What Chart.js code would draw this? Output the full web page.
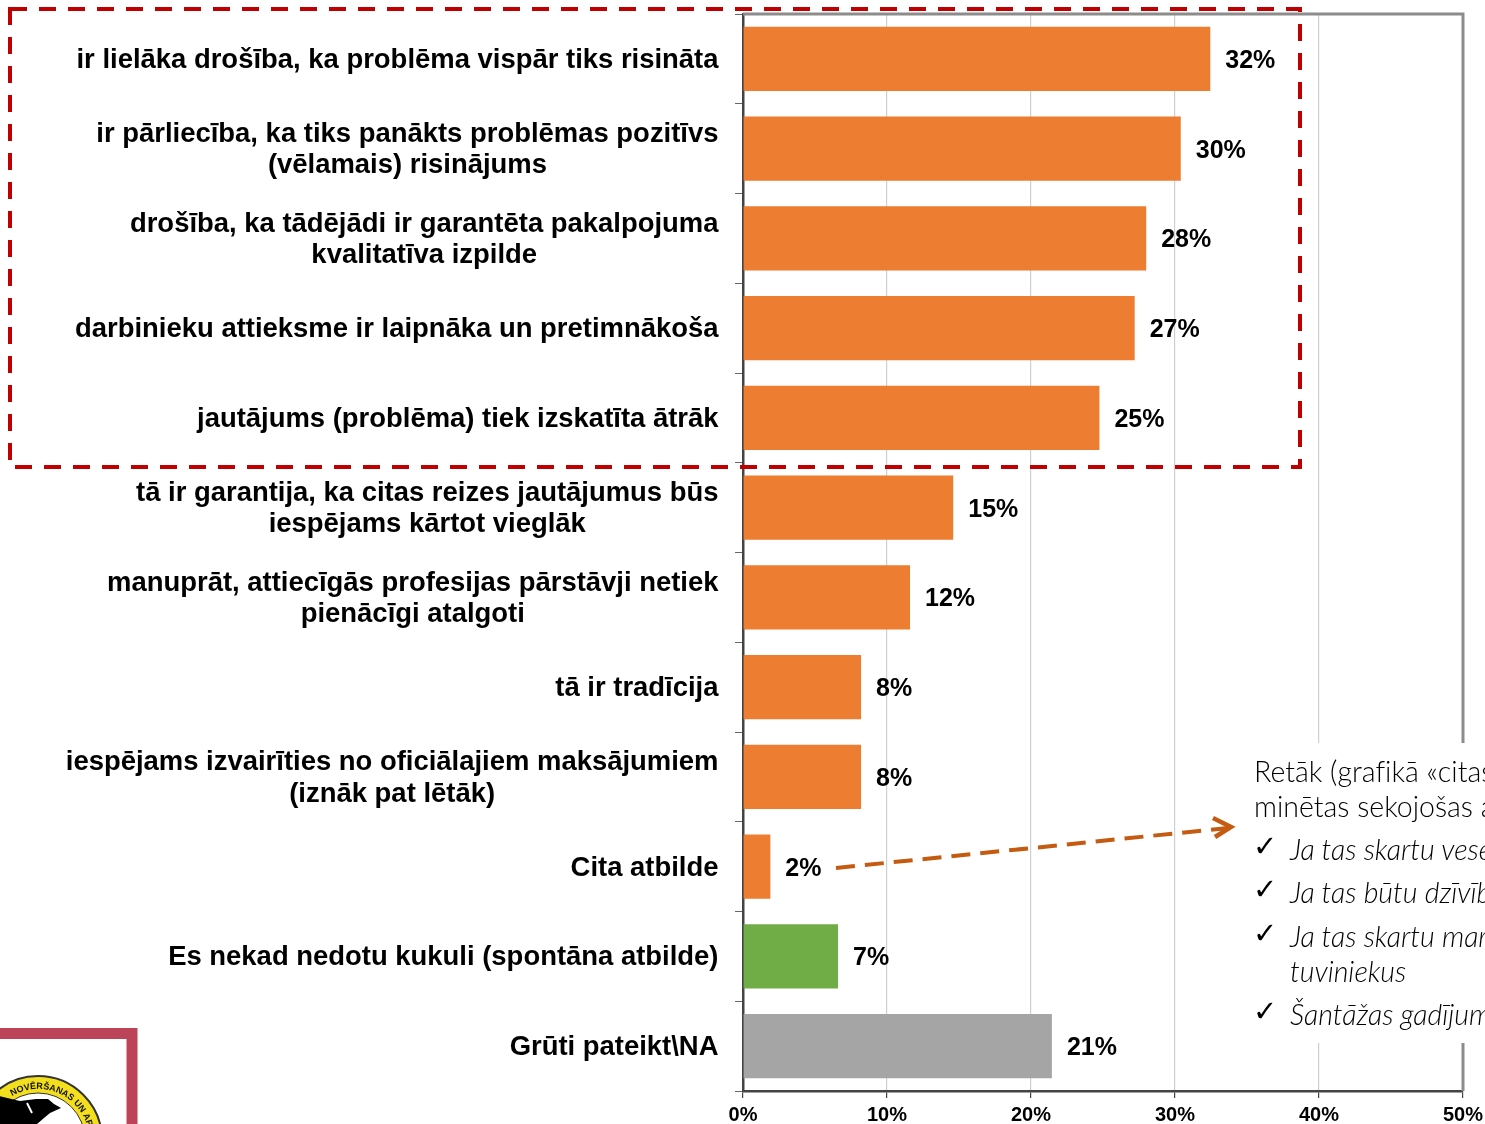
<!DOCTYPE html>
<html lang="lv">
<head>
<meta charset="utf-8">
<title>Grafiks</title>
<script src="https://cdn.jsdelivr.net/npm/chart.js@4"></script>
<style>
    html, body { margin: 0; padding: 0; background: #fff; overflow: hidden; }
    #wrap { position: relative; width: 1485px; height: 1124px; overflow: hidden; }
    #chart { position: absolute; left: 0; top: 0; }
    #overlay { position: absolute; left: 0; top: 0; }
    #note { position: absolute; left: 1240px; top: 743px; width: 245px; height: 300px; background: #fff; overflow: hidden;
        font-family: Lato, "Open Sans", sans-serif; font-weight: 300; font-size: 28.5px; color: #000;
        font-variant-ligatures: none; }
    #note div { position: absolute; white-space: nowrap; line-height: 32px; }
    #note .it { left: 50px; font-style: italic; }
    #note .ck { left: 13px; font-family: "DejaVu Sans", sans-serif; font-weight: 400; font-size: 29px; }
</style>
</head>
<body>
<div id="wrap">
    <canvas id="chart" width="1485" height="1124"></canvas>
    <svg id="overlay" width="1485" height="1124" viewBox="0 0 1485 1124">
        <!-- sarkanais izcēluma rāmis -->
        <rect x="10" y="9" width="1290" height="458" fill="none" stroke="#c00000" stroke-width="4" stroke-dasharray="17 12"/>
        <!-- bulta uz piezīmi -->
        <line x1="836" y1="868" x2="1228" y2="828" stroke="#c55a11" stroke-width="4" stroke-dasharray="19 10"/>
        <polyline points="1213,818 1231,827 1215,837" fill="none" stroke="#c55a11" stroke-width="4.5"/>
        <!-- logo -->
        <rect x="-40" y="1033.5" width="172" height="140" fill="none" stroke="#bc4459" stroke-width="11"/>
        <circle cx="38" cy="1140" r="64" fill="#f3df1e" stroke="#333" stroke-width="2"/>
        <circle cx="38" cy="1140" r="47" fill="#fff" stroke="#333" stroke-width="1"/>
        <path d="M-5,1095 L20,1101 L36,1099 L48,1099 L54,1104 L61,1108 L50,1113 L44,1118 L37,1124 L0,1124 Z" fill="#000"/>
        <line x1="27" y1="1103" x2="32" y2="1113" stroke="#fff" stroke-width="2"/>
        <path id="arc" d="M12,1096 A51 51 0 0 1 89,1140" fill="none"/>
        <text font-family="Liberation Sans" font-weight="700" font-size="9" fill="#111">
            <textPath href="#arc">NOVĒRŠANAS UN APKAR</textPath>
        </text>
    </svg>
    <div id="note">
        <div style="left:14px;top:12px">Retāk (grafikā «citas</div>
        <div style="left:14px;top:47px">minētas sekojošas a</div>
        <div class="ck" style="top:87px">✓</div>
        <div class="it" style="top:90px">Ja tas skartu vese</div>
        <div class="ck" style="top:130px">✓</div>
        <div class="it" style="top:133px">Ja tas būtu dzīvīb</div>
        <div class="ck" style="top:174px">✓</div>
        <div class="it" style="top:177px">Ja tas skartu mar</div>
        <div class="it" style="top:212px">tuviniekus</div>
        <div class="ck" style="top:252px">✓</div>
        <div class="it" style="top:255px">Šantāžas gadījum</div>
    </div>
</div>

<script>
// Dati
const categories = [
    ['ir lielāka drošība, ka problēma vispār tiks risināta'],
    ['ir pārliecība, ka tiks panākts problēmas pozitīvs', '(vēlamais) risinājums'],
    ['drošība, ka tādējādi ir garantēta pakalpojuma', 'kvalitatīva izpilde'],
    ['darbinieku attieksme ir laipnāka un pretimnākoša'],
    ['jautājums (problēma) tiek izskatīta ātrāk'],
    ['tā ir garantija, ka citas reizes jautājumus būs', 'iespējams kārtot vieglāk'],
    ['manuprāt, attiecīgās profesijas pārstāvji netiek', 'pienācīgi atalgoti'],
    ['tā ir tradīcija'],
    ['iespējams izvairīties no oficiālajiem maksājumiem', '(iznāk pat lētāk)'],
    ['Cita atbilde'],
    ['Es nekad nedotu kukuli (spontāna atbilde)'],
    ['Grūti pateikt\\NA']
];
const values = [32.45, 30.4, 28.0, 27.2, 24.75, 14.6, 11.6, 8.2, 8.2, 1.9, 6.6, 21.45];
const valueLabels = ['32%', '30%', '28%', '27%', '25%', '15%', '12%', '8%', '8%', '2%', '7%', '21%'];
const xTicks = [0, 10, 20, 30, 40, 50];

const ORANGE = '#ED7D31', GREEN = '#70AD47', GREY = '#A5A5A5';
const FRAME = '#8c8c8c';

// Kategoriju nosaukumi: bloks pie labās malas, rindas centrētas blokā
const categoryLabels = {
    id: 'categoryLabels',
    afterDraw(chart) {
        const ctx = chart.ctx, yScale = chart.scales.y;
        const right = yScale.right - 24.5, lineH = 31.5;
        ctx.save();
        ctx.font = 'bold 27.45px "Liberation Sans"';
        ctx.fillStyle = '#000';
        ctx.textAlign = 'center';
        ctx.textBaseline = 'middle';
        categories.forEach((lines, i) => {
            const widest = Math.max(...lines.map(l => ctx.measureText(l).width));
            const y0 = yScale.getPixelForValue(i) + 1.5 - (lines.length - 1) * lineH / 2;
            lines.forEach((l, k) => ctx.fillText(l, right - widest / 2, y0 + k * lineH));
        });
        ctx.restore();
    }
};

// Vērtību etiķetes aiz stabiņiem
const barLabels = {
    id: 'barLabels',
    afterDatasetsDraw(chart) {
        const ctx = chart.ctx;
        ctx.save();
        ctx.font = 'bold 25px "Liberation Sans"';
        ctx.fillStyle = '#000';
        ctx.textAlign = 'left';
        ctx.textBaseline = 'middle';
        chart.getDatasetMeta(0).data.forEach((bar, i) => {
            ctx.fillText(valueLabels[i], bar.x + 15, bar.y + 2);
        });
        ctx.restore();
    }
};

// Augšējā un labā rāmja līnija
const plotFrame = {
    id: 'plotFrame',
    beforeDatasetsDraw(chart) {
        const { ctx, chartArea: a } = chart;
        ctx.save();
        ctx.strokeStyle = FRAME;
        ctx.lineWidth = 3;
        ctx.beginPath();
        ctx.moveTo(a.left, a.top);
        ctx.lineTo(a.right, a.top);
        ctx.lineTo(a.right, a.bottom);
        ctx.stroke();
        ctx.restore();
    }
};

new Chart(document.getElementById('chart').getContext('2d'), {
    type: 'bar',
    data: {
        labels: categories.map(c => c.join(' ')),
        datasets: [{
            data: values,
            backgroundColor: c => c.dataIndex === 10 ? GREEN : c.dataIndex === 11 ? GREY : ORANGE,
            barPercentage: 0.714,
            categoryPercentage: 1
        }]
    },
    options: {
        indexAxis: 'y',
        responsive: false,
        animation: false,
        layout: { padding: { top: 14, right: 22, left: 0, bottom: 0 } },
        plugins: { legend: { display: false }, tooltip: { enabled: false } },
        scales: {
            x: {
                min: 0,
                max: 50,
                afterBuildTicks: s => { s.ticks = xTicks.map(v => ({ value: v })); },
                afterFit: s => { s.height = 33; s.paddingLeft = 0; s.paddingRight = 0; },
                grid: { color: '#cfcfcf', lineWidth: 1.2, tickColor: '#444', tickLength: 7 },
                border: { color: '#444', width: 2.5 },
                ticks: {
                    callback: v => v + '%',
                    color: '#000',
                    maxRotation: 0,
                    padding: 5,
                    font: { family: '"Liberation Sans"', weight: 'bold', size: 20 }
                }
            },
            y: {
                afterFit: s => { s.width = 743; },
                grid: { drawOnChartArea: false, offset: true, tickColor: '#666', tickLength: 8 },
                border: { color: '#444', width: 2.5 },
                ticks: { display: false }
            }
        }
    },
    plugins: [plotFrame, barLabels, categoryLabels]
});
</script>
</body>
</html>
